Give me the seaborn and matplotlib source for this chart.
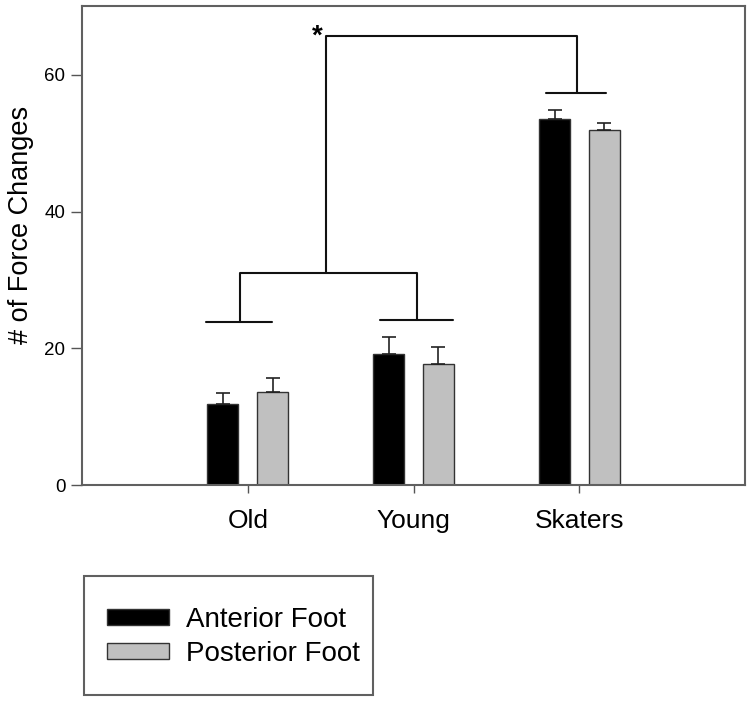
import matplotlib
matplotlib.use("Agg")
import matplotlib.pyplot as plt
import seaborn as sns
import pandas as pd
from matplotlib.patches import Patch, Rectangle

groups = ["Old", "Young", "Skaters"]
feet = ["Anterior Foot", "Posterior Foot"]
anterior = [11.8, 19.2, 53.5]
posterior = [13.6, 17.7, 51.9]
anterior_err = [1.7, 2.4, 1.3]
posterior_err = [2.0, 2.5, 1.1]
colors = ["#000000", "#c0c0c0"]

df = pd.DataFrame({
    "group": groups * 2,
    "foot": [feet[0]] * 3 + [feet[1]] * 3,
    "value": anterior + posterior,
})
errs = anterior_err + posterior_err

sns.set_style("white")
plt.rcParams["font.family"] = ["Liberation Sans", "DejaVu Sans"]
plt.rcParams["text.color"] = "black"
plt.rcParams["axes.labelcolor"] = "black"
plt.rcParams["xtick.color"] = "black"
plt.rcParams["ytick.color"] = "black"

fig = plt.figure(figsize=(7.52, 7.02), dpi=100)
ax = fig.add_axes([0.109, 0.309, 0.882, 0.682])

sns.barplot(data=df, x="group", y="value", hue="foot", order=groups,
            hue_order=feet, palette=colors, width=0.6, gap=0.38,
            errorbar=None, edgecolor="#333333", linewidth=1, legend=False, ax=ax)

# one-sided error bars on top of each bar
bars = [p for p in ax.patches if isinstance(p, Rectangle)]
for p, e in zip(bars, errs):
    xc = p.get_x() + p.get_width() / 2
    h = p.get_height()
    ax.errorbar(xc, h, yerr=[[0], [e]], fmt="none", ecolor="#222222",
                elinewidth=1.2, capsize=5, capthick=1.2, zorder=3)

# significance brackets
lc = "#111111"
lw = 1.5
ax.plot([-0.25, 0.145], [23.8, 23.8], color=lc, lw=lw)
ax.plot([0.80, 1.24], [24.1, 24.1], color=lc, lw=lw)
ax.plot([-0.048, -0.048, 1.022, 1.022], [23.8, 31.0, 31.0, 24.1], color=lc, lw=lw)
ax.plot([1.80, 2.16], [57.3, 57.3], color=lc, lw=lw)
ax.plot([0.474, 0.474, 1.986, 1.986], [31.0, 65.7, 65.7, 57.3], color=lc, lw=lw)
ax.text(0.42, 65.6, "*", fontsize=20, ha="center", va="center", fontweight="bold")

ax.set_xlim(-1, 3)
ax.set_ylim(0, 70)
ax.set_yticks([0, 20, 40, 60])
ax.set_xlabel("")
ax.set_ylabel("# of Force Changes", fontsize=19.5)
ax.yaxis.set_label_coords(-0.072, 0.543)
ax.tick_params(axis="y", labelsize=13.5, length=8, width=1, color="#555555",
               direction="out", left=True, pad=4)
ax.tick_params(axis="x", labelsize=19, length=6, width=1, color="#555555",
               direction="out", bottom=True, pad=11)
for s in ax.spines.values():
    s.set_color("#606060")
    s.set_linewidth(1.5)

# legend below the axes
handles = [Patch(facecolor=c, edgecolor="#333333", linewidth=1) for c in colors]
fig.legend(handles, feet, loc="center left", bbox_to_anchor=(107 / 752, 1 - 637 / 702),
           frameon=False, fontsize=20, handlelength=2.23, handleheight=0.5,
           labelspacing=0.3, handletextpad=0.6, borderpad=0, borderaxespad=0)
fig.add_artist(Rectangle((84 / 752, 1 - 695 / 702), 289 / 752, 119 / 702,
                         transform=fig.transFigure, fill=False,
                         edgecolor="#606060", linewidth=1.5))

plt.savefig("out.png", dpi=100)
